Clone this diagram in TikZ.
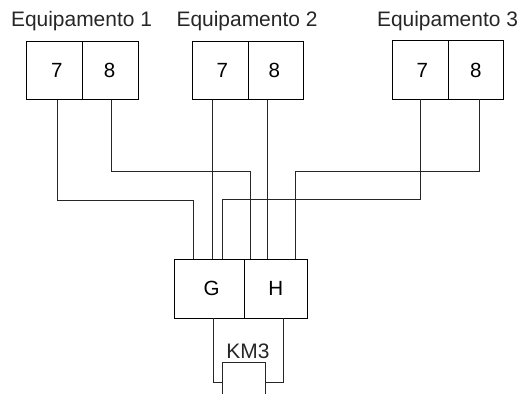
\documentclass[tikz,border=0pt]{standalone}
\usepackage{fontspec}
\setmainfont{Liberation Sans}
\usepackage{tikz}

\tikzset{
    cell/.style={shape=rectangle, draw=black, line width=0.6pt, inner sep=0pt, outer sep=0pt, font=\fontsize{14.6}{16}\selectfont},
    title/.style={anchor=base, inner sep=0pt, text=black!85, font=\fontsize{14.9}{16}\selectfont},
    wire/.style={line width=0.6pt, draw=black!85}
}

\begin{document}
\begin{tikzpicture}[x=0.025cm, y=-0.025cm]
            \useasboundingbox (0, 0) rectangle (521, 394);

            \node[title] (EqA) at (81.5, 26.5) {Equipamento 1};
            \node[title] (EqB) at (247, 26.5) {Equipamento 2};
            \node[title] (EqC) at (447.5, 26.5) {Equipamento 3};

            \node[cell, minimum width=1.39cm, minimum height=1.46cm] (A7) at (54.7, 70.7) {\hspace*{3pt}7};
            \node[cell, minimum width=1.39cm, minimum height=1.46cm] (A8) at (110.2, 70.7) {\hspace{-1pt}8};
            \node[cell, minimum width=1.39cm, minimum height=1.46cm] (B7) at (220.2, 70.5) {\hspace*{3pt}7};
            \node[cell, minimum width=1.39cm, minimum height=1.46cm] (B8) at (275.8, 70.5) {\hspace{-2pt}8};
            \node[cell, minimum width=1.39cm, minimum height=1.46cm] (C7) at (420.2, 70) {\hspace*{3pt}7};
            \node[cell, minimum width=1.39cm, minimum height=1.46cm] (C8) at (475.8, 70) {8};

            \node[cell, minimum width=1.74cm, minimum height=1.47cm] (G) at (209.5, 288.6) {\hspace*{3pt}\raisebox{-1pt}{G}};
            \node[cell, minimum width=1.575cm, minimum height=1.47cm] (H) at (275.8, 288.6) {\raisebox{-1pt}{H}};

            \node[title] (KM) at (248, 358) {KM3};
            \coordinate (KMa) at (222.3, 394);
            \coordinate (KMb) at (222.3, 362.3);
            \coordinate (KMc) at (265.3, 362.3);
            \coordinate (KMd) at (265.3, 394);

            \draw[wire] (A7.south -| 57, 0) |- (193, 200) -- (G.north -| 193, 0);
            \draw[wire] (A8.south -| 111, 0) |- (250, 171) -- (G.north -| 250, 0);
            \draw[wire] (B7.south -| 212.3, 0) -- (G.north -| 212.3, 0);
            \draw[wire] (B8.south -| 267.5, 0) -- (H.north -| 267.5, 0);
            \draw[wire] (C7.south -| 420, 0) |- (222.3, 199.5) -- (G.north -| 222.3, 0);
            \draw[wire] (C8.south -| 479.3, 0) |- (295.8, 171) -- (H.north -| 295.8, 0);

            \draw[wire] (KMa) -- (KMb) -- (KMc) -- (KMd);
            \draw[wire] (G.south -| 213.3, 0) |- (222.3, 382);
            \draw[wire] (H.south -| 283.7, 0) |- (265.3, 382);

        \end{tikzpicture}
\end{document}
